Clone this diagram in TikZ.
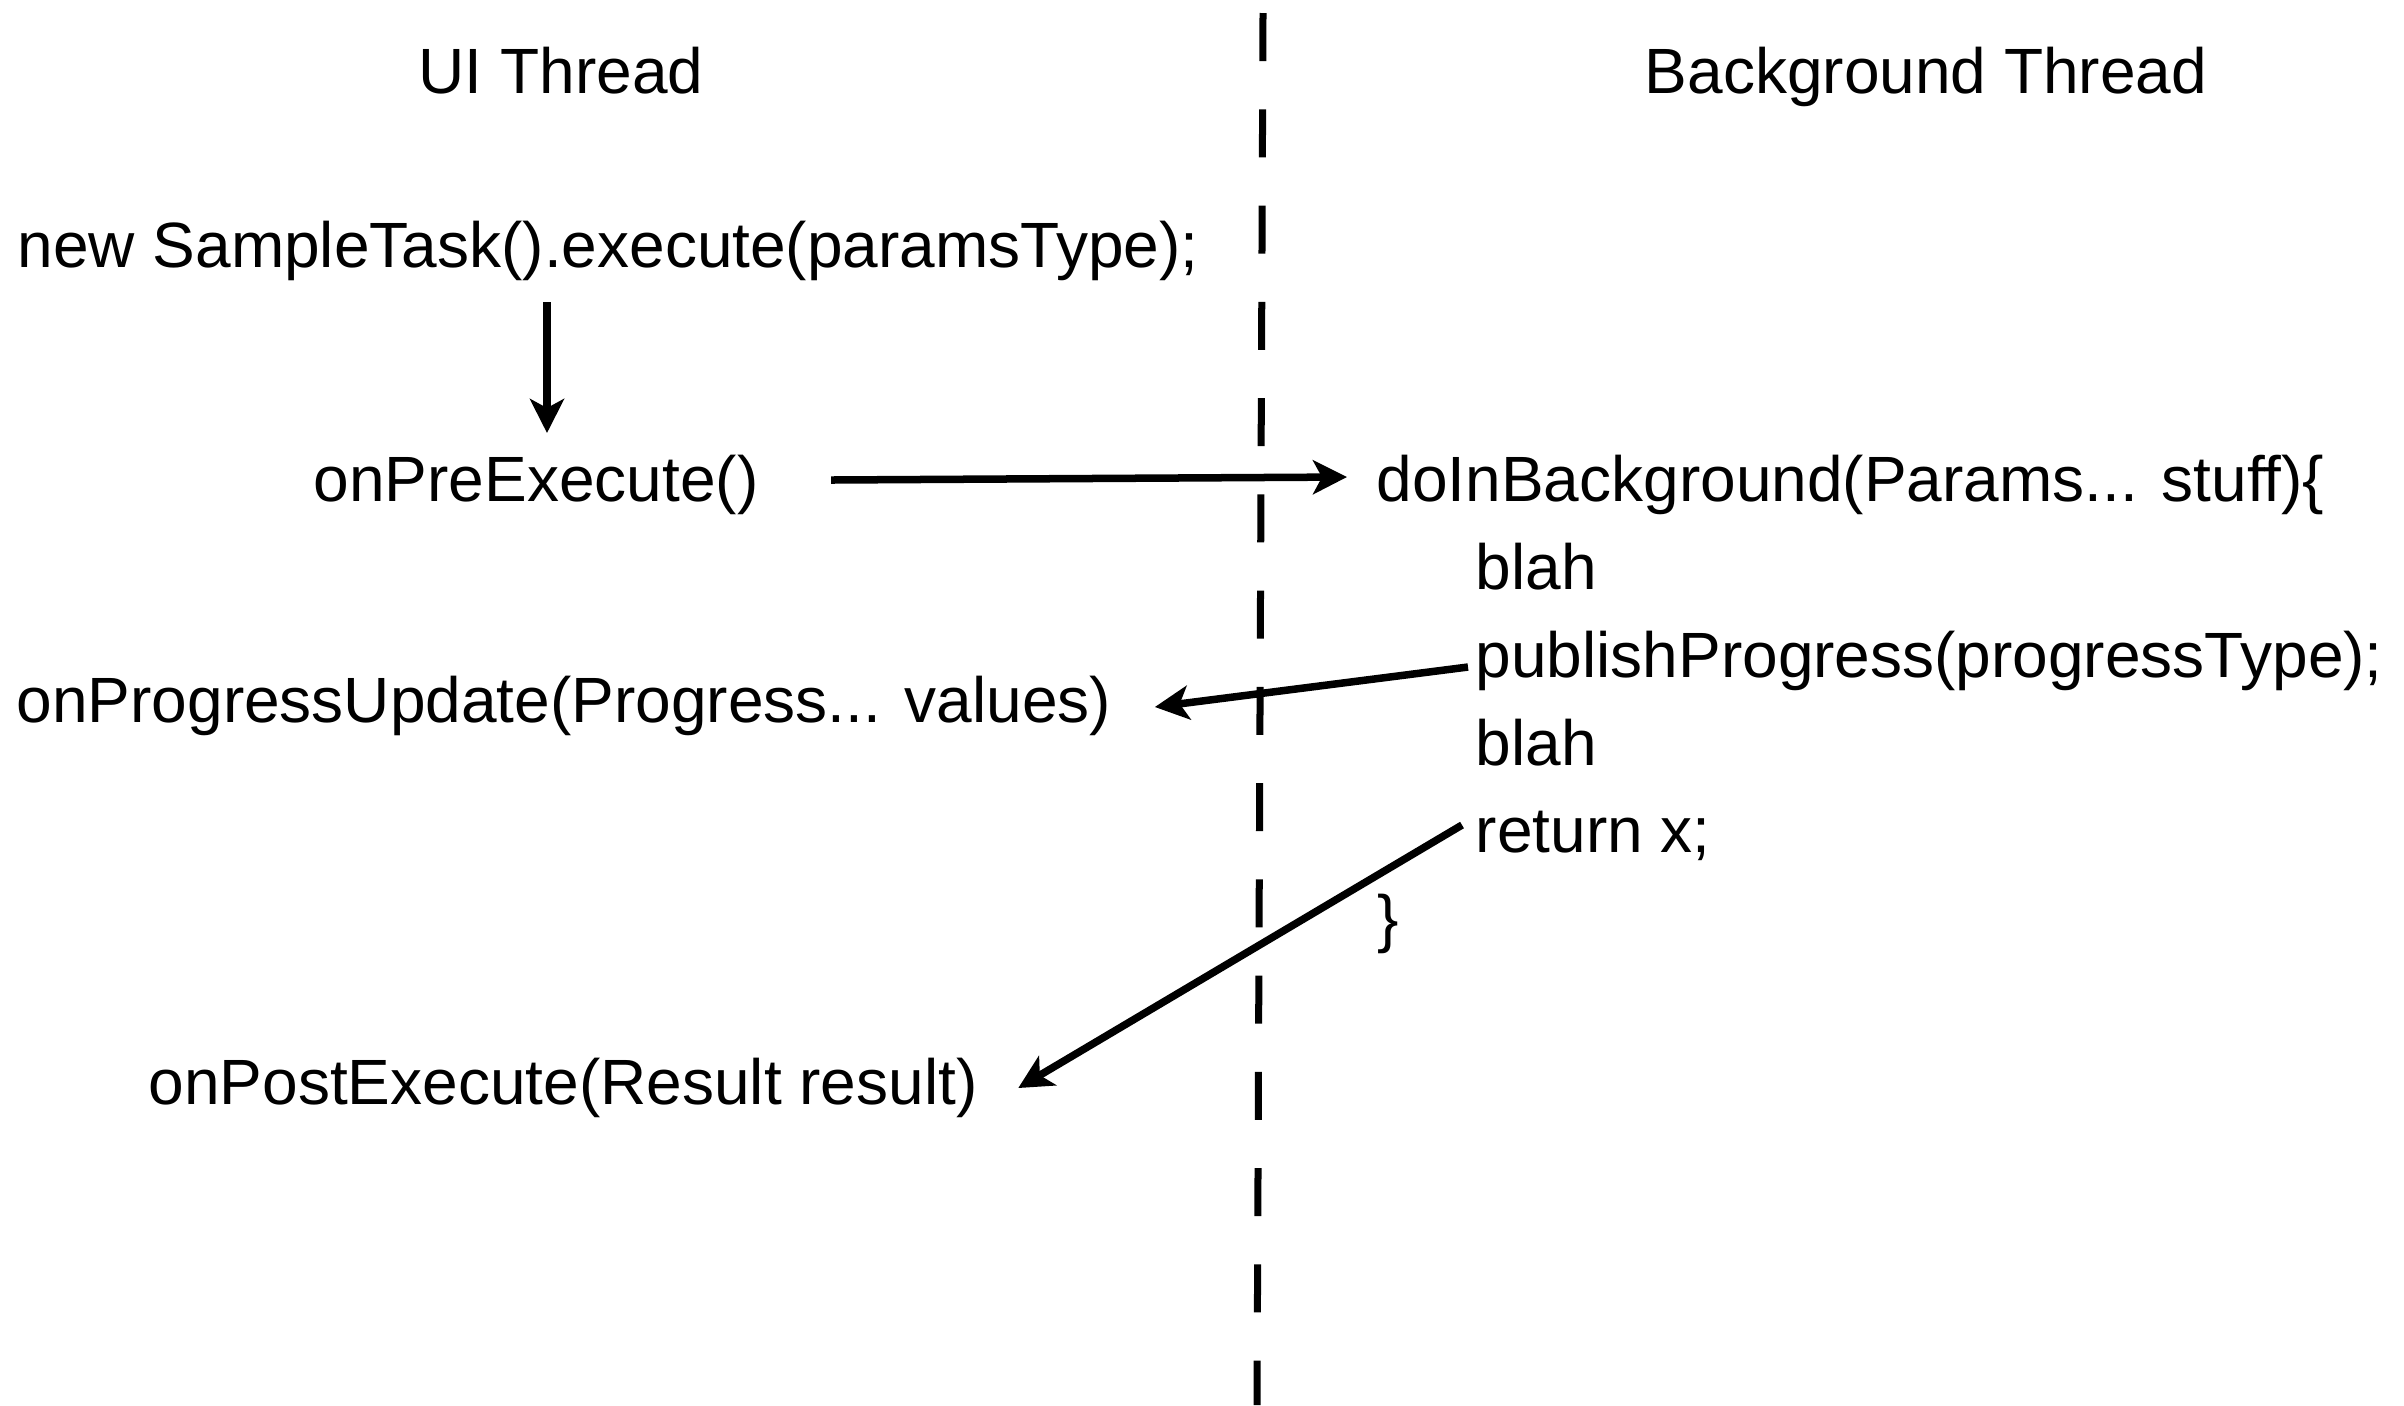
\documentclass[tikz,border=0pt]{standalone}
\usepackage{fontspec}
\setmainfont{Liberation Sans}
\usetikzlibrary{arrows.meta,calc}
\begin{document}
\begin{tikzpicture}[x=0.01cm,y=-0.01cm,
  lbl/.style={inner sep=0pt, font=\fontsize{18.2pt}{22pt}\selectfont},
  flow/.style={line width=0.075cm, -{Stealth[length=0.34cm,width=0.34cm,inset=0.09cm]}},
  divider/.style={line width=0.07cm, dash pattern=on 0.48cm off 0.482cm}]
\fill[white] (0,0) rectangle (2404,1405);
\useasboundingbox (0,0) rectangle (2404,1405);

% thread boundary
\draw[divider] (1263,13) -- (1257,1405);

% column headings
\node[lbl,anchor=base] (hUI) at (561,93) {UI Thread};
\node[lbl,anchor=base] (hBG) at (1926,93) {Background Thread};

% UI thread side
\node[lbl,anchor=base west] (call) at (17,267) {new SampleTask().execute(paramsType);};
\node[lbl,anchor=base west] (pre) at (313,501) {onPreExecute()};
\node[lbl,anchor=base west] (prog) at (16,722) {onProgressUpdate(Progress... values)};
\node[lbl,anchor=base west] (post) at (148,1104) {onPostExecute(Result result)};

% background thread side
\node[lbl,anchor=base west] (doin) at (1376,501) {doInBackground(Params... stuff)\{};
\node[lbl,anchor=base west] (blahA) at (1475,589) {blah};
\node[lbl,anchor=base west] (pub) at (1475,677) {publishProgress(progressType);};
\node[lbl,anchor=base west] (blahB) at (1475,765) {blah};
\node[lbl,anchor=base west] (ret) at (1475,852) {return x;};
\node[lbl,anchor=base west] (close) at (1377,940) {\}};

% calls between the threads
\draw[flow] ($(call.base west)+(530,35)$) -- ($(pre.base west)+(234,-68)$);
\draw[flow] ($(pre.base east)+(72,-21)$) -- ($(doin.base west)+(-29,-24)$);
\draw[flow] ($(pub.base west)+(-7,-10)$) -- ($(prog.base east)+(43,-15)$);
\draw[flow] ($(ret.base west)+(-13,-27)$) -- ($(post.base east)+(40,-16)$);
\end{tikzpicture}
\end{document}
